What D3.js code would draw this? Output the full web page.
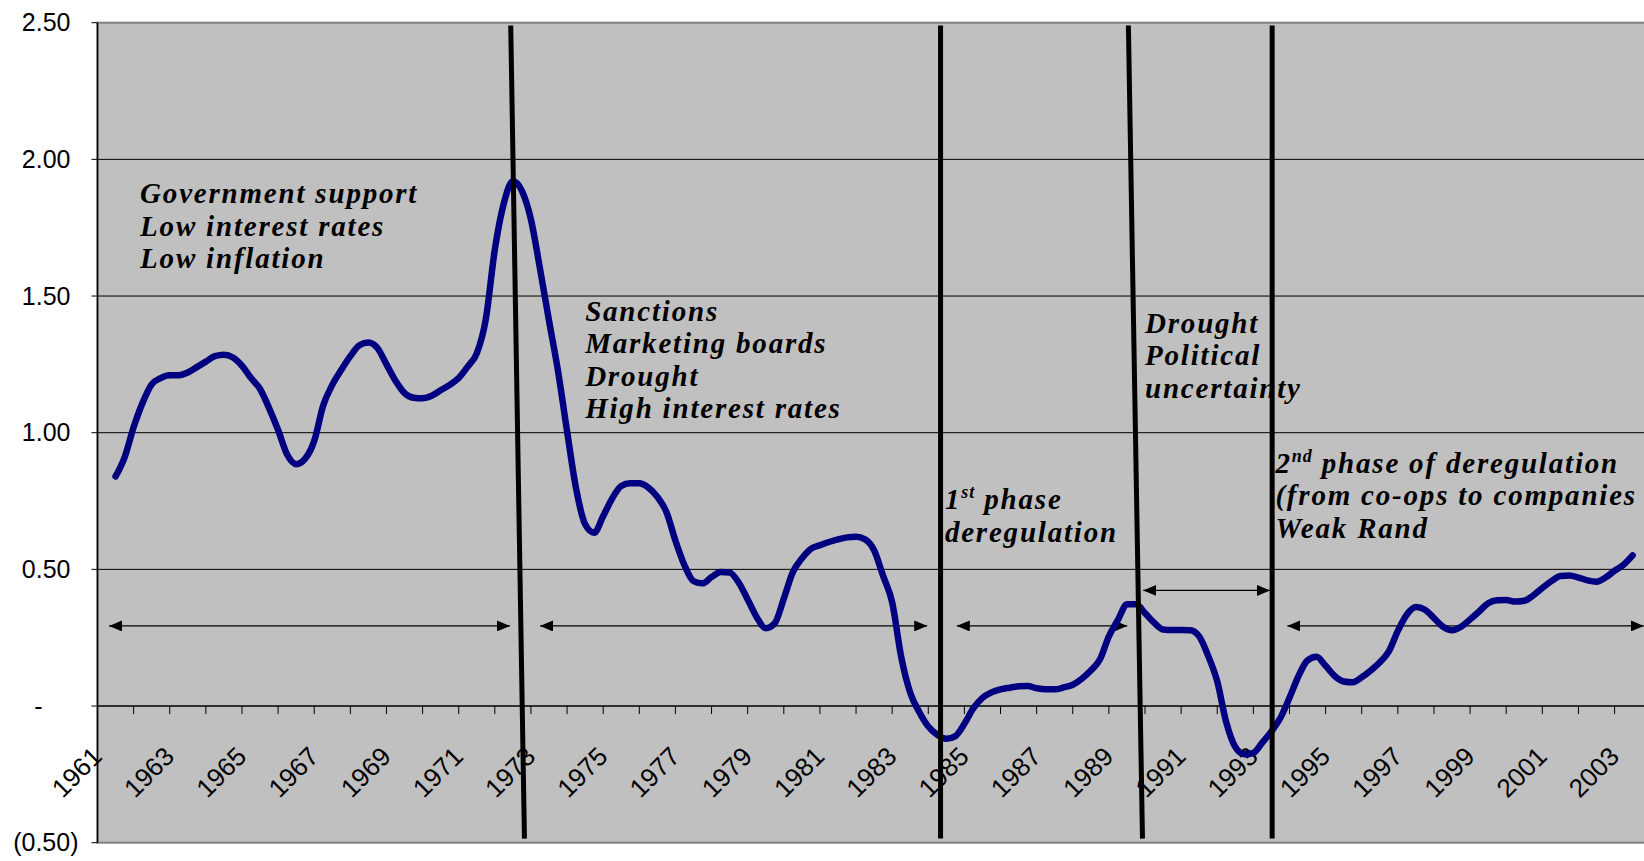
<!DOCTYPE html>
<html lang="en">
<head>
<meta charset="UTF-8" />
<title>Index 1961-2003 with policy periods</title>
<script src="https://d3js.org/d3.v7.min.js"></script>
<style>
  body { margin: 0; background: #fff; }
  svg { display: block; }
  .axis-label { font-family: "Liberation Sans", Arial, sans-serif; font-size: 25px; fill: #000; }
  .x-label { font-size: 26px; }
  .note { font-family: "Liberation Serif", "Times New Roman", serif; font-weight: bold; font-style: italic; font-size: 29px; letter-spacing: 1.8px; fill: #000; }
</style>
</head>
<body>
<svg width="1644" height="861"></svg>
<script>
// categories (one per year) and the years that carry a label
const years = [1961, 1962, 1963, 1964, 1965, 1966, 1967, 1968, 1969, 1970,
  1971, 1972, 1973, 1974, 1975, 1976, 1977, 1978, 1979, 1980,
  1981, 1982, 1983, 1984, 1985, 1986, 1987, 1988, 1989, 1990,
  1991, 1992, 1993, 1994, 1995, 1996, 1997, 1998, 1999, 2000,
  2001, 2002, 2003];
const labelYears = [1961, 1963, 1965, 1967, 1969, 1971, 1973, 1975, 1977, 1979, 1981,
  1983, 1985, 1987, 1989, 1991, 1993, 1995, 1997, 1999, 2001, 2003];

// y ticks and their labels (accounting style)
const yTicks = [-0.5, 0, 0.5, 1, 1.5, 2, 2.5];
const yTickLabels = ["(0.50)", "-", "0.50", "1.00", "1.50", "2.00", "2.50"];

// series, every quarter year from 1961 to 2003
const seriesStart = 1961;
const seriesValues = [
  0.84, 0.91, 1.02, 1.11,
  1.177, 1.20, 1.21, 1.21,
  1.22, 1.24, 1.26, 1.28,
  1.285, 1.275, 1.245, 1.20,
  1.16, 1.09, 1.01, 0.92,
  0.885, 0.905, 0.97, 1.10,
  1.175, 1.23, 1.28, 1.32,
  1.33, 1.31, 1.25, 1.19,
  1.145, 1.128, 1.126, 1.135,
  1.155, 1.175, 1.20, 1.242,
  1.29, 1.415, 1.67, 1.84,
  1.92, 1.885, 1.78, 1.60,
  1.41, 1.225, 1.005, 0.795,
  0.665, 0.634, 0.695, 0.76,
  0.805, 0.815, 0.815, 0.799,
  0.765, 0.71, 0.605, 0.515,
  0.457, 0.449, 0.472, 0.49,
  0.488, 0.452, 0.39, 0.325,
  0.285, 0.303, 0.393, 0.49,
  0.54, 0.575, 0.588, 0.60,
  0.61, 0.617, 0.619, 0.61,
  0.57, 0.476, 0.38, 0.18,
  0.049, -0.022, -0.075, -0.105,
  -0.12, -0.11, -0.065, -0.008,
  0.03, 0.05, 0.061, 0.067,
  0.072, 0.073, 0.065, 0.061,
  0.061, 0.068, 0.078, 0.10,
  0.13, 0.17, 0.255, 0.315,
  0.372, 0.372, 0.34, 0.305,
  0.28, 0.278, 0.278, 0.277,
  0.255, 0.183, 0.09, -0.06,
  -0.15, -0.176, -0.171, -0.133,
  -0.093, -0.043, 0.03, 0.11,
  0.167, 0.18, 0.147, 0.11,
  0.09, 0.087, 0.105, 0.13,
  0.16, 0.20, 0.275, 0.335,
  0.362, 0.352, 0.322, 0.29,
  0.277, 0.29, 0.317, 0.346,
  0.376, 0.387, 0.388, 0.382,
  0.385, 0.405, 0.432, 0.457,
  0.476, 0.478, 0.47, 0.46,
  0.455, 0.47, 0.495, 0.517,
  0.551
];

// period dividers (year at top, year at bottom) and period arrows (from, to, level)
const dividers = [[1971.94, 1972.32], [1983.84, 1983.84], [1989.04, 1989.43], [1993.02, 1993.02]];
const periodArrows = [
  [1960.82, 1971.92, 0.293],
  [1972.75, 1983.47, 0.293],
  [1984.29, 1989.01, 0.293],
  [1989.45, 1992.96, 0.423],
  [1993.44, 2003.31, 0.293]
];

// notes: anchor year, value at first baseline, lines ([text, superscript, rest])
const notes = [
  { t: 1961.68, v: 1.839, lines: [["Government support"], ["Low interest rates"], ["Low inflation"]] },
  { t: 1974.0, v: 1.409, lines: [["Sanctions"], ["Marketing boards"], ["Drought"], ["High interest rates"]] },
  { t: 1983.96, v: 0.72, lines: [["1", "st", " phase"], ["deregulation"]] },
  { t: 1989.5, v: 1.366, lines: [["Drought"], ["Political"], ["uncertainty"]] },
  { t: 1993.11, v: 0.854, lines: [["2", "nd", " phase of deregulation"], ["(from co-ops to companies"], ["Weak Rand"]] }
];

const svg = d3.select("svg");

const x = d3.scaleLinear().domain([1960.5, 2003.5]).range([97.5, 1650.7]);
const y = d3.scaleLinear().domain([-0.5, 2.5]).range([842.7, 22.7]);

const x0 = x.range()[0], x1 = x.range()[1];

// plot area
svg.append("rect")
  .attr("x", x0).attr("y", y(2.5))
  .attr("width", x1 - x0).attr("height", y(-0.5) - y(2.5))
  .attr("fill", "#c0c0c0")
  .attr("stroke", "#808080")
  .attr("stroke-width", 2);

// gridlines
svg.append("g")
  .selectAll("line")
  .data([0.5, 1, 1.5, 2])
  .enter()
  .append("line")
  .attr("x1", x0).attr("x2", x1)
  .attr("y1", d => y(d)).attr("y2", d => y(d))
  .attr("stroke", "#000")
  .attr("stroke-width", 1);

// y axis
const yAxis = svg.append("g").attr("transform", `translate(${x0},0)`);
yAxis.append("line")
  .attr("y1", y(2.5)).attr("y2", y(-0.5))
  .attr("stroke", "#000").attr("stroke-width", 1.5);
yAxis.selectAll(".ytick")
  .data(yTicks)
  .enter()
  .append("line")
  .attr("x1", -6).attr("x2", 0)
  .attr("y1", d => y(d)).attr("y2", d => y(d))
  .attr("stroke", "#000");
yAxis.selectAll("text")
  .data(yTicks)
  .enter()
  .append("text")
  .attr("class", "axis-label")
  .attr("text-anchor", "end")
  .attr("x", d => (d < 0 ? -19 : d === 0 ? -55 : -27))
  .attr("y", d => y(d))
  .attr("dy", "0.35em")
  .text((d, i) => yTickLabels[i]);

// x axis along zero
const xAxis = svg.append("g").attr("transform", `translate(0,${y(0)})`);
xAxis.append("line")
  .attr("x1", x0).attr("x2", x1)
  .attr("stroke", "#000").attr("stroke-width", 1.5);
xAxis.selectAll(".xtick")
  .data(years.slice(1))
  .enter()
  .append("line")
  .attr("x1", d => x(d - 0.5)).attr("x2", d => x(d - 0.5))
  .attr("y1", 0).attr("y2", 8)
  .attr("stroke", "#000");
xAxis.selectAll("text")
  .data(labelYears)
  .enter()
  .append("text")
  .attr("class", "axis-label x-label")
  .attr("text-anchor", "end")
  .attr("transform", d => `translate(${x(d) - 12},52) rotate(-45)`)
  .text(d => d);

// notes
notes.forEach(n => {
  const t = svg.append("text")
    .attr("class", "note")
    .attr("x", x(n.t))
    .attr("y", y(n.v));
  n.lines.forEach((ln, i) => {
    t.append("tspan")
      .attr("x", x(n.t))
      .attr("y", y(n.v) + i * 32.5)
      .text(ln[0]);
    if (ln.length > 1) {
      t.append("tspan").attr("dy", -11).style("font-size", "18px").style("letter-spacing", "1px").text(ln[1]);
      t.append("tspan").attr("dy", 11).text(ln[2]);
    }
  });
});

// arrowheads
const defs = svg.append("defs");
defs.append("marker")
  .attr("id", "head")
  .attr("viewBox", "0 0 13 11")
  .attr("refX", 13).attr("refY", 5.5)
  .attr("markerWidth", 13).attr("markerHeight", 11)
  .attr("markerUnits", "userSpaceOnUse")
  .attr("orient", "auto-start-reverse")
  .append("path")
  .attr("d", "M0,0L13,5.5L0,11Z")
  .attr("fill", "#000");

svg.append("g")
  .selectAll("line")
  .data(periodArrows)
  .enter()
  .append("line")
  .attr("x1", d => x(d[0])).attr("x2", d => x(d[1]))
  .attr("y1", d => y(d[2])).attr("y2", d => y(d[2]))
  .attr("stroke", "#000")
  .attr("stroke-width", 1.3)
  .attr("marker-start", "url(#head)")
  .attr("marker-end", "url(#head)");

// series
const points = seriesValues.map((v, i) => ({ t: seriesStart + i / 4, v }));
const line = d3.line()
  .x(d => x(d.t))
  .y(d => y(d.v))
  .curve(d3.curveMonotoneX);

svg.append("path")
  .datum(points)
  .attr("d", line)
  .attr("fill", "none")
  .attr("stroke", "#000080")
  .attr("stroke-width", 6.5)
  .attr("stroke-linejoin", "round")
  .attr("stroke-linecap", "round");

// period dividers
svg.append("g")
  .selectAll("line")
  .data(dividers)
  .enter()
  .append("line")
  .attr("x1", d => x(d[0])).attr("x2", d => x(d[1]))
  .attr("y1", y(2.49)).attr("y2", y(-0.485))
  .attr("stroke", "#000")
  .attr("stroke-width", 5);
</script>
</body>
</html>
